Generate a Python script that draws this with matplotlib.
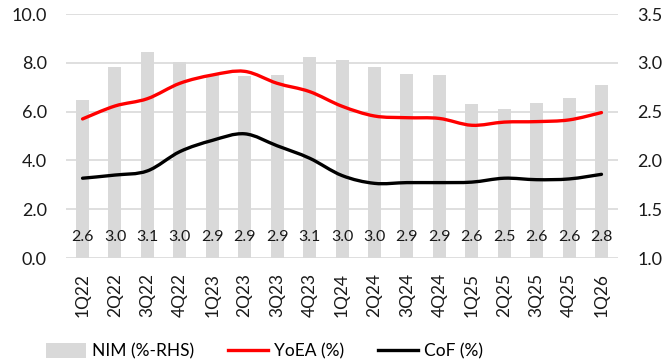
import numpy as np
import matplotlib
matplotlib.use("Agg")
import matplotlib.pyplot as plt
from matplotlib.path import Path
from matplotlib.patches import PathPatch, Patch
from matplotlib.lines import Line2D

quarters = ["1Q22", "2Q22", "3Q22", "4Q22", "1Q23", "2Q23", "3Q23", "4Q23",
            "1Q24", "2Q24", "3Q24", "4Q24", "1Q25", "2Q25", "3Q25", "4Q25", "1Q26"]
nim = [2.62, 2.96, 3.11, 3.01, 2.87, 2.86, 2.87, 3.06,
       3.03, 2.96, 2.89, 2.87, 2.58, 2.53, 2.59, 2.64, 2.77]
yoea = [5.70, 6.23, 6.53, 7.16, 7.50, 7.65, 7.16, 6.82,
        6.22, 5.82, 5.75, 5.72, 5.44, 5.57, 5.59, 5.66, 5.96]
cof = [3.27, 3.40, 3.57, 4.36, 4.82, 5.09, 4.60, 4.09,
       3.38, 3.06, 3.09, 3.09, 3.11, 3.27, 3.21, 3.24, 3.43]

plt.rcParams["font.family"] = ["Lato", "DejaVu Sans"]
GRID = "#d9d9d9"
RED = "#ff0000"


def smooth_path(x, y):
    # cubic bezier segments through every point (catmull-rom style)
    pts = np.column_stack([x, y]).astype(float)
    ext = np.vstack([pts[0], pts, pts[-1]])
    verts = [tuple(pts[0])]
    codes = [Path.MOVETO]
    for i in range(1, len(ext) - 2):
        p0, p1, p2, p3 = ext[i - 1], ext[i], ext[i + 1], ext[i + 2]
        c1 = p1 + (p2 - p0) / 6.0
        c2 = p2 - (p3 - p1) / 6.0
        verts += [tuple(c1), tuple(c2), tuple(p2)]
        codes += [Path.CURVE4] * 3
    return Path(verts, codes)


fig = plt.figure(figsize=(6.68, 3.64), dpi=100)
ax = fig.add_axes([0.0993, 0.2912, 0.8254, 0.6703])
ax2 = ax.twinx()

x = np.arange(len(quarters))

# bars on the right axis, drawn behind the lines
ax2.bar(x, nim, width=0.4, color=GRID, zorder=1)
for xi, v in zip(x, nim):
    ax2.text(xi, 1.215, f"{v:.1f}", ha="center", va="center", fontsize=11.5, color="#1a1a1a")
ax2.set_ylim(1.0, 3.5)
ax2.set_yticks(np.arange(1.0, 3.51, 0.5))
ax2.set_yticklabels([f"{t:.1f}" for t in np.arange(1.0, 3.51, 0.5)])

ax.set_zorder(ax2.get_zorder() + 1)
ax.patch.set_visible(False)
ax.add_patch(PathPatch(smooth_path(x, yoea), fill=False, edgecolor=RED, lw=2.4,
                       capstyle="round", zorder=3))
ax.add_patch(PathPatch(smooth_path(x, cof), fill=False, edgecolor="black", lw=2.4,
                       capstyle="round", zorder=3))
ax.set_ylim(0, 10)
ax.set_yticks(np.arange(0, 10.1, 2))
ax.set_yticklabels([f"{t:.1f}" for t in np.arange(0, 10.1, 2)])
ax.set_xlim(-0.5, len(quarters) - 0.5)
ax.set_xticks(x)
ax.set_xticklabels(quarters, rotation=90)

# gridlines drawn on the bar axis so they sit under the bars
for g in np.arange(1.0, 3.51, 0.5):
    ax2.axhline(g, color=GRID, lw=1.2, zorder=0)

for a in (ax, ax2):
    for s in a.spines.values():
        s.set_visible(False)
    a.tick_params(length=0, labelsize=13, colors="#1a1a1a")
ax.tick_params(axis="y", pad=14)
ax2.tick_params(axis="y", pad=14)
ax.tick_params(axis="x", pad=11, labelsize=12.5)

handles = [Patch(facecolor=GRID, edgecolor="none"),
           Line2D([], [], color=RED, lw=2.4),
           Line2D([], [], color="black", lw=2.4)]
fig.legend(handles, ["NIM (%-RHS)", "YoEA (%)", "CoF (%)"], loc="center",
           bbox_to_anchor=(0.396, 0.035), ncol=3, frameon=False, fontsize=12.5,
           handlelength=2.3, handleheight=0.9, handletextpad=0.3, columnspacing=2.0)

fig.savefig("out.png", dpi=100)
